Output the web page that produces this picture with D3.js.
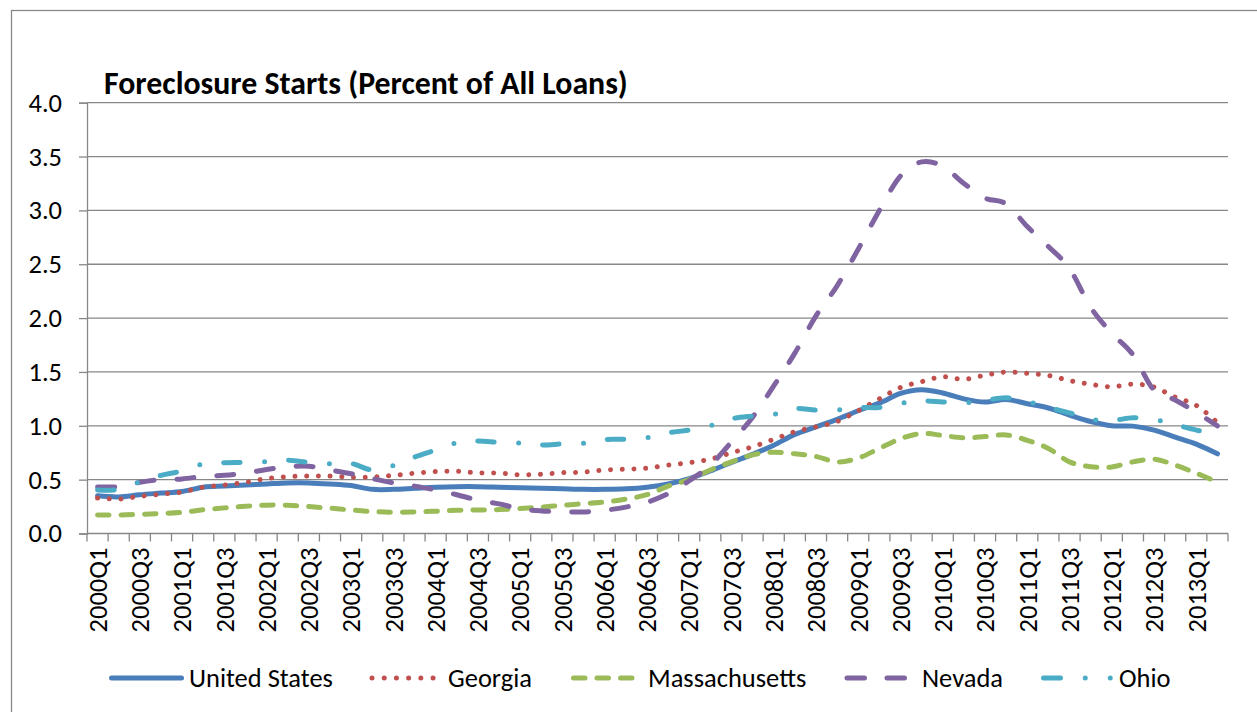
<!DOCTYPE html>
<html><head><meta charset="utf-8">
<script src="https://cdn.jsdelivr.net/npm/d3@7"></script>
<style>body{margin:0;background:#fff} svg{display:block}</style>
</head><body><svg id="c" width="1257" height="712"></svg>
<script>
const quarters = ["2000Q1","2000Q2","2000Q3","2000Q4","2001Q1","2001Q2","2001Q3","2001Q4",
"2002Q1","2002Q2","2002Q3","2002Q4","2003Q1","2003Q2","2003Q3","2003Q4",
"2004Q1","2004Q2","2004Q3","2004Q4","2005Q1","2005Q2","2005Q3","2005Q4",
"2006Q1","2006Q2","2006Q3","2006Q4","2007Q1","2007Q2","2007Q3","2007Q4",
"2008Q1","2008Q2","2008Q3","2008Q4","2009Q1","2009Q2","2009Q3","2009Q4",
"2010Q1","2010Q2","2010Q3","2010Q4","2011Q1","2011Q2","2011Q3","2011Q4",
"2012Q1","2012Q2","2012Q3","2012Q4","2013Q1","2013Q2"];
const xTickLabels = ["2000Q1","2000Q3","2001Q1","2001Q3","2002Q1","2002Q3","2003Q1","2003Q3",
"2004Q1","2004Q3","2005Q1","2005Q3","2006Q1","2006Q3","2007Q1","2007Q3","2008Q1","2008Q3",
"2009Q1","2009Q3","2010Q1","2010Q3","2011Q1","2011Q3","2012Q1","2012Q3","2013Q1"];
const yTicks = [0, 0.5, 1.0, 1.5, 2.0, 2.5, 3.0, 3.5, 4.0];

const unitedStates = [0.35,0.34,0.36,0.375,0.39,0.43,0.44,0.45,0.46,0.47,0.47,0.46,0.445,0.41,0.41,0.42,0.43,0.435,0.435,0.43,0.425,0.42,0.415,0.41,0.41,0.415,0.43,0.46,0.51,0.58,0.66,0.735,0.82,0.92,0.99,1.06,1.14,1.21,1.30,1.335,1.305,1.25,1.22,1.245,1.205,1.165,1.10,1.04,1.00,0.997,0.96,0.895,0.83,0.74];
const georgia = [0.33,0.32,0.345,0.365,0.385,0.43,0.45,0.475,0.51,0.528,0.533,0.533,0.523,0.525,0.54,0.56,0.575,0.578,0.563,0.561,0.545,0.55,0.565,0.57,0.59,0.597,0.607,0.635,0.658,0.69,0.75,0.805,0.875,0.945,0.99,1.04,1.14,1.25,1.355,1.41,1.455,1.432,1.47,1.50,1.487,1.468,1.42,1.385,1.362,1.387,1.36,1.265,1.19,1.03];
const massachusetts = [0.172,0.172,0.178,0.185,0.197,0.22,0.238,0.253,0.263,0.262,0.25,0.235,0.218,0.204,0.197,0.2,0.207,0.216,0.218,0.222,0.232,0.245,0.262,0.277,0.292,0.32,0.36,0.44,0.5,0.59,0.665,0.73,0.755,0.74,0.715,0.665,0.70,0.79,0.88,0.928,0.91,0.888,0.9,0.915,0.865,0.79,0.665,0.62,0.618,0.665,0.69,0.635,0.56,0.478];
const nevada = [0.432,0.435,0.475,0.50,0.507,0.53,0.54,0.56,0.595,0.62,0.625,0.59,0.555,0.51,0.47,0.44,0.405,0.36,0.31,0.275,0.23,0.21,0.202,0.20,0.216,0.245,0.29,0.37,0.49,0.635,0.85,1.08,1.37,1.675,2.02,2.30,2.64,3.0,3.32,3.45,3.41,3.25,3.115,3.06,2.85,2.665,2.46,2.1,1.86,1.66,1.33,1.24,1.125,1.0];
const ohio = [0.405,0.41,0.48,0.54,0.58,0.645,0.657,0.66,0.668,0.68,0.66,0.648,0.65,0.59,0.63,0.71,0.775,0.842,0.858,0.846,0.84,0.822,0.832,0.839,0.872,0.875,0.89,0.935,0.96,1.0,1.065,1.09,1.105,1.16,1.146,1.146,1.17,1.17,1.21,1.232,1.222,1.213,1.235,1.26,1.225,1.17,1.12,1.06,1.05,1.074,1.06,1.01,0.96,0.92];

const seriesNames = ["United States","Georgia","Massachusetts","Nevada","Ohio"];
const seriesValues = [unitedStates, georgia, massachusetts, nevada, ohio];
const seriesColors = ["#4A7EBB","#C0504D","#9BBB59","#8064A2","#4BACC6"];
const seriesDash = [null, "0.01 11.7", "11.5 12", "17 23", "16.5 24.5 0 24"];
const legendDash = [null, "0.01 12.2", "11.5 12", "17.5 22.5", "17 24.75 0 25 0 100"];
const legendLine = [[111.5,181.5],[372,433.5],[573.5,632],[847,906.5],[1043.5,1111]];
const legendTextX = [189, 448, 648, 922, 1119];

const FONT = "Carlito, Calibri, Lato, 'Noto Sans', sans-serif";
const svg = d3.select("#c");

function fitSize(str, weight, target) {
  const t = svg.append("text").attr("font-family", FONT).attr("font-weight", weight)
    .attr("font-size", 100).text(str);
  const w = t.node().getComputedTextLength();
  t.remove();
  return 100 * target / w;
}
const labelSize = fitSize("United States", "normal", 144);
const titleSize = fitSize("Foreclosure Starts (Percent of All Loans)", "bold", 524);
const LW = 5;

// outer frame
svg.append("rect").attr("x", 11.5).attr("y", 10.5).attr("width", 1400).attr("height", 900)
  .attr("fill", "none").attr("stroke", "#898989").attr("stroke-width", 1.3);

const plotL = 87, plotR = 1228, plotT = 102.7, plotB = 533.5;
const x = d3.scaleBand().domain(quarters).range([plotL, plotR]).paddingInner(0).paddingOuter(0);
const y = d3.scaleLinear().domain([0, 4]).range([plotB, plotT]);
const cx = q => x(q) + x.bandwidth() / 2;

// gridlines
svg.append("g").selectAll("line").data(yTicks.filter(v => v > 0)).join("line")
  .attr("x1", plotL).attr("x2", plotR).attr("y1", d => y(d)).attr("y2", d => y(d))
  .attr("stroke", "#878787").attr("stroke-width", 1.3);

// y axis
const yAxis = svg.append("g").attr("transform", `translate(${plotL},0)`)
  .call(d3.axisLeft(y).tickValues(yTicks).tickFormat(d3.format(".1f")).tickSize(8).tickPadding(17));
yAxis.select(".domain").attr("stroke", "#878787").attr("stroke-width", 1.3);
yAxis.selectAll(".tick line").attr("stroke", "#878787").attr("stroke-width", 1.3);
yAxis.selectAll("text").attr("font-family", FONT).attr("font-size", labelSize).attr("fill", "#000");

// x axis: ticks at category boundaries
const xg = svg.append("g");
xg.append("line").attr("x1", plotL).attr("x2", plotR).attr("y1", plotB).attr("y2", plotB)
  .attr("stroke", "#878787").attr("stroke-width", 1.3);
const bounds = quarters.map(q => x(q)).concat([plotR]);
xg.selectAll("line.tk").data(bounds).join("line").attr("class", "tk")
  .attr("x1", d => d).attr("x2", d => d).attr("y1", plotB).attr("y2", plotB + 8)
  .attr("stroke", "#878787").attr("stroke-width", 1.3);
xg.selectAll("text").data(xTickLabels).join("text")
  .attr("transform", d => `translate(${cx(d)},${plotB + 14}) rotate(-90)`)
  .attr("text-anchor", "end").attr("dy", "0.35em")
  .attr("font-family", FONT).attr("font-size", labelSize).attr("fill", "#000").text(d => d);

// lines
const line = d3.line().x((d, i) => cx(quarters[i])).y(d => y(d)).curve(d3.curveCardinal.tension(0));
seriesValues.forEach((vals, k) => {
  svg.append("path").datum(vals).attr("d", line)
    .attr("fill", "none").attr("stroke", seriesColors[k]).attr("stroke-width", LW)
    .attr("stroke-linecap", "round").attr("stroke-linejoin", "round")
    .attr("stroke-dasharray", seriesDash[k]);
});

// title
svg.append("text").attr("x", 104).attr("y", 94).attr("font-family", FONT).attr("font-weight", "bold")
  .attr("font-size", titleSize).attr("fill", "#000").text("Foreclosure Starts (Percent of All Loans)");

// legend
const ly = 678;
seriesNames.forEach((n, k) => {
  svg.append("line").attr("x1", legendLine[k][0]).attr("x2", legendLine[k][1]).attr("y1", ly).attr("y2", ly)
    .attr("stroke", seriesColors[k]).attr("stroke-width", LW).attr("stroke-linecap", "round")
    .attr("stroke-dasharray", legendDash[k]);
  svg.append("text").attr("x", legendTextX[k]).attr("y", ly).attr("dy", "0.35em")
    .attr("font-family", FONT).attr("font-size", labelSize).attr("fill", "#000").text(n);
});
</script></body></html>
